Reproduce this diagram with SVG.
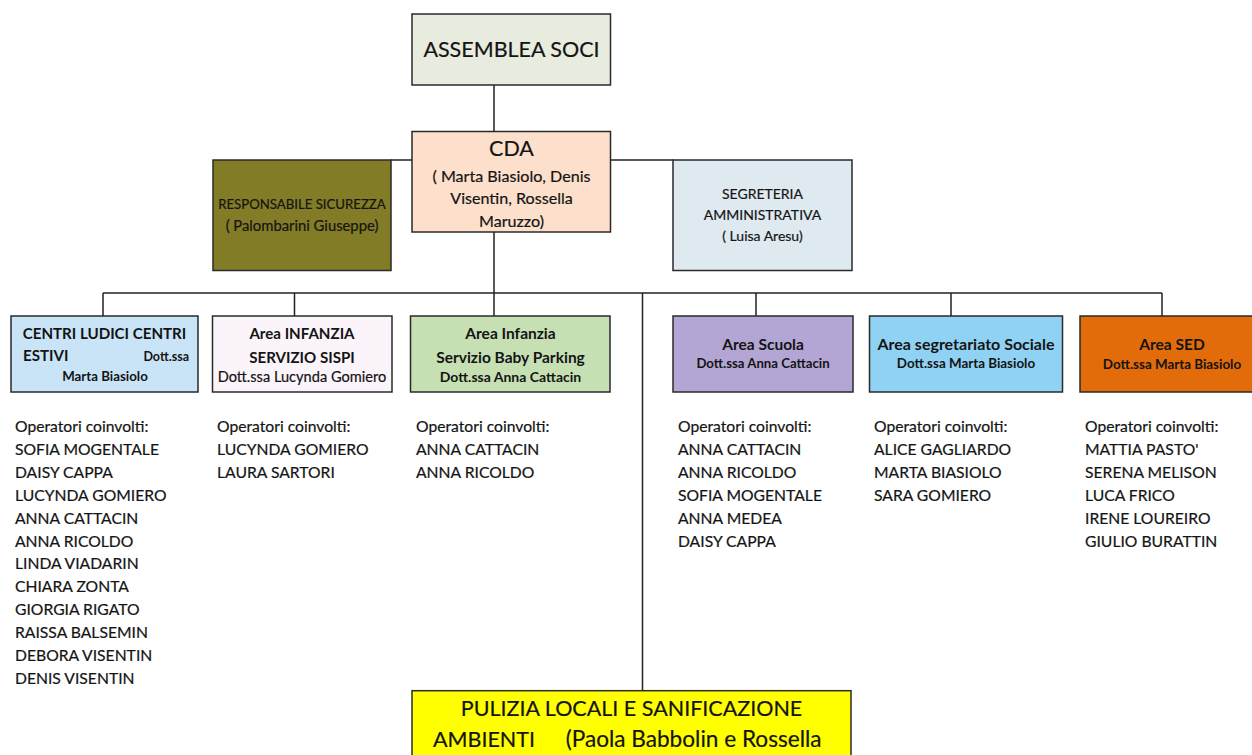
<svg xmlns="http://www.w3.org/2000/svg" width="1252" height="755" viewBox="0 0 1252 755">
<style>
.box{stroke:#2a2a2a;stroke-width:1.5}
.ln{stroke:#222;stroke-width:1.5;fill:none}
text{font-family:Lato,"Liberation Sans",sans-serif;fill:#141414}
.r{stroke:#141414;stroke-width:0.2}
.c{text-anchor:middle}
.big{font-size:21.5px}
.mid{font-size:16.1px}
.sm{font-size:14px}
.t{font-size:15.5px;font-weight:bold}
.d{font-size:13.4px;font-weight:bold}
.lst{font-size:15.7px;stroke:#141414;stroke-width:0.2}
</style>
<rect width="1252" height="755" fill="#ffffff"/>
<g id="connectors">
<path class="ln" d="M494,85V131"/>
<path class="ln" d="M391,160H412M611,160H673"/>
<path class="ln" d="M494,232V293"/>
<path class="ln" d="M103,293H1162"/>
<path class="ln" d="M103,293V316M294.5,293V316M494,293V316M756,293V316M951,293V316M1162,293V316"/>
<path class="ln" d="M642.5,293V690"/>
</g>
<g id="assemblea">
<rect class="box" x="412" y="14" width="198.5" height="71" fill="#e8ecdf"/>
<text class="c big r" x="511.5" y="57">ASSEMBLEA SOCI</text>
</g>
<g id="cda">
<rect class="box" x="412" y="131.5" width="198.5" height="100.5" fill="#fde0cb"/>
<text class="c big r" x="511.5" y="156">CDA</text>
<text class="c mid r" x="511.5" y="181.7">( Marta Biasiolo, Denis</text>
<text class="c mid r" x="511.5" y="204">Visentin, Rossella</text>
<text class="c mid r" x="511.5" y="226.7">Maruzzo)</text>
</g>
<g id="sicurezza">
<rect class="box" x="213" y="160" width="178" height="110.5" fill="#837c26"/>
<text class="c r" x="302" y="209" style="font-size:13.2px">RESPONSABILE SICUREZZA</text>
<text class="c r" x="302" y="231" style="font-size:14.8px">( Palombarini Giuseppe)</text>
</g>
<g id="segreteria">
<rect class="box" x="673" y="160" width="179" height="110.5" fill="#dfeaf0"/>
<text class="c sm r" x="762.5" y="199">SEGRETERIA</text>
<text class="c sm r" x="762.5" y="220">AMMINISTRATIVA</text>
<text class="c sm r" x="762.5" y="241">( Luisa Aresu)</text>
</g>
<g id="centri">
<rect class="box" x="11" y="316" width="187" height="76" fill="#c9e4f7"/>
<text class="c t" x="104.5" y="339" style="font-size:15.1px">CENTRI LUDICI CENTRI</text>
<text class="t" x="23" y="361" style="font-size:15.1px">ESTIVI</text>
<text class="d" x="189" y="361" text-anchor="end" style="font-size:12.5px">Dott.ssa</text>
<text class="c d" x="105" y="381" style="font-size:13.3px">Marta Biasiolo</text>
</g>
<g id="sispi">
<rect class="box" x="212.5" y="316" width="179.5" height="76" fill="#fbf4fa"/>
<text class="c t" x="302" y="339" style="font-size:15.1px">Area INFANZIA</text>
<text class="c t" x="302" y="362.7" style="font-size:15.1px">SERVIZIO SISPI</text>
<text class="c r" x="302" y="381.7" style="font-size:14.6px">Dott.ssa Lucynda Gomiero</text>
</g>
<g id="babyparking">
<rect class="box" x="410.5" y="316" width="199.5" height="76" fill="#c6e0b4"/>
<text class="c t" x="510.5" y="339">Area Infanzia</text>
<text class="c t" x="510.5" y="362.7">Servizio Baby Parking</text>
<text class="c d" x="510.5" y="381.7" style="font-size:14px">Dott.ssa Anna Cattacin</text>
</g>
<g id="scuola">
<rect class="box" x="673" y="316" width="180" height="76" fill="#b3a6d5"/>
<text class="c t" x="763" y="350">Area Scuola</text>
<text class="c d" x="763" y="367.5" style="font-size:13.2px">Dott.ssa Anna Cattacin</text>
</g>
<g id="segretariato">
<rect class="box" x="869.5" y="316" width="193" height="76" fill="#90d2f3"/>
<text class="c t" x="966" y="350" style="font-size:16px">Area segretariato Sociale</text>
<text class="c d" x="966" y="367.5">Dott.ssa Marta Biasiolo</text>
</g>
<g id="sed">
<rect class="box" x="1080" y="316" width="190" height="76" fill="#e26b0a"/>
<text class="c t" x="1172" y="350">Area SED</text>
<text class="c d" x="1172" y="369">Dott.ssa Marta Biasiolo</text>
</g>
<g id="pulizia">
<rect class="box" x="412" y="690.7" width="439" height="80" fill="#ffff00"/>
<text class="c big r" x="631.5" y="715.7">PULIZIA LOCALI E SANIFICAZIONE</text>
<text class="big r" x="433" y="747.3">AMBIENTI</text>
<text class="big r" x="565.7" y="747.3" style="font-size:22.6px">(Paola Babbolin e Rossella</text>
</g>
<g id="lists">
<text class="lst" x="15" y="432">Operatori coinvolti:</text>
<text class="lst" x="15" y="454.9">SOFIA MOGENTALE</text>
<text class="lst" x="15" y="477.8">DAISY CAPPA</text>
<text class="lst" x="15" y="500.7">LUCYNDA GOMIERO</text>
<text class="lst" x="15" y="523.6">ANNA CATTACIN</text>
<text class="lst" x="15" y="546.5">ANNA RICOLDO</text>
<text class="lst" x="15" y="569.4">LINDA VIADARIN</text>
<text class="lst" x="15" y="592.3">CHIARA ZONTA</text>
<text class="lst" x="15" y="615.2">GIORGIA RIGATO</text>
<text class="lst" x="15" y="638.1">RAISSA BALSEMIN</text>
<text class="lst" x="15" y="661">DEBORA VISENTIN</text>
<text class="lst" x="15" y="683.9">DENIS VISENTIN</text>
<text class="lst" x="217" y="432">Operatori coinvolti:</text>
<text class="lst" x="217" y="454.9">LUCYNDA GOMIERO</text>
<text class="lst" x="217" y="477.8">LAURA SARTORI</text>
<text class="lst" x="416" y="432">Operatori coinvolti:</text>
<text class="lst" x="416" y="454.9">ANNA CATTACIN</text>
<text class="lst" x="416" y="477.8">ANNA RICOLDO</text>
<text class="lst" x="678" y="432">Operatori coinvolti:</text>
<text class="lst" x="678" y="454.9">ANNA CATTACIN</text>
<text class="lst" x="678" y="477.8">ANNA RICOLDO</text>
<text class="lst" x="678" y="500.7">SOFIA MOGENTALE</text>
<text class="lst" x="678" y="523.6">ANNA MEDEA</text>
<text class="lst" x="678" y="546.5">DAISY CAPPA</text>
<text class="lst" x="874" y="432">Operatori coinvolti:</text>
<text class="lst" x="874" y="454.9">ALICE GAGLIARDO</text>
<text class="lst" x="874" y="477.8">MARTA BIASIOLO</text>
<text class="lst" x="874" y="500.7">SARA GOMIERO</text>
<text class="lst" x="1085" y="432">Operatori coinvolti:</text>
<text class="lst" x="1085" y="454.9">MATTIA PASTO'</text>
<text class="lst" x="1085" y="477.8">SERENA MELISON</text>
<text class="lst" x="1085" y="500.7">LUCA FRICO</text>
<text class="lst" x="1085" y="523.6">IRENE LOUREIRO</text>
<text class="lst" x="1085" y="546.5">GIULIO BURATTIN</text>
</g>
</svg>
